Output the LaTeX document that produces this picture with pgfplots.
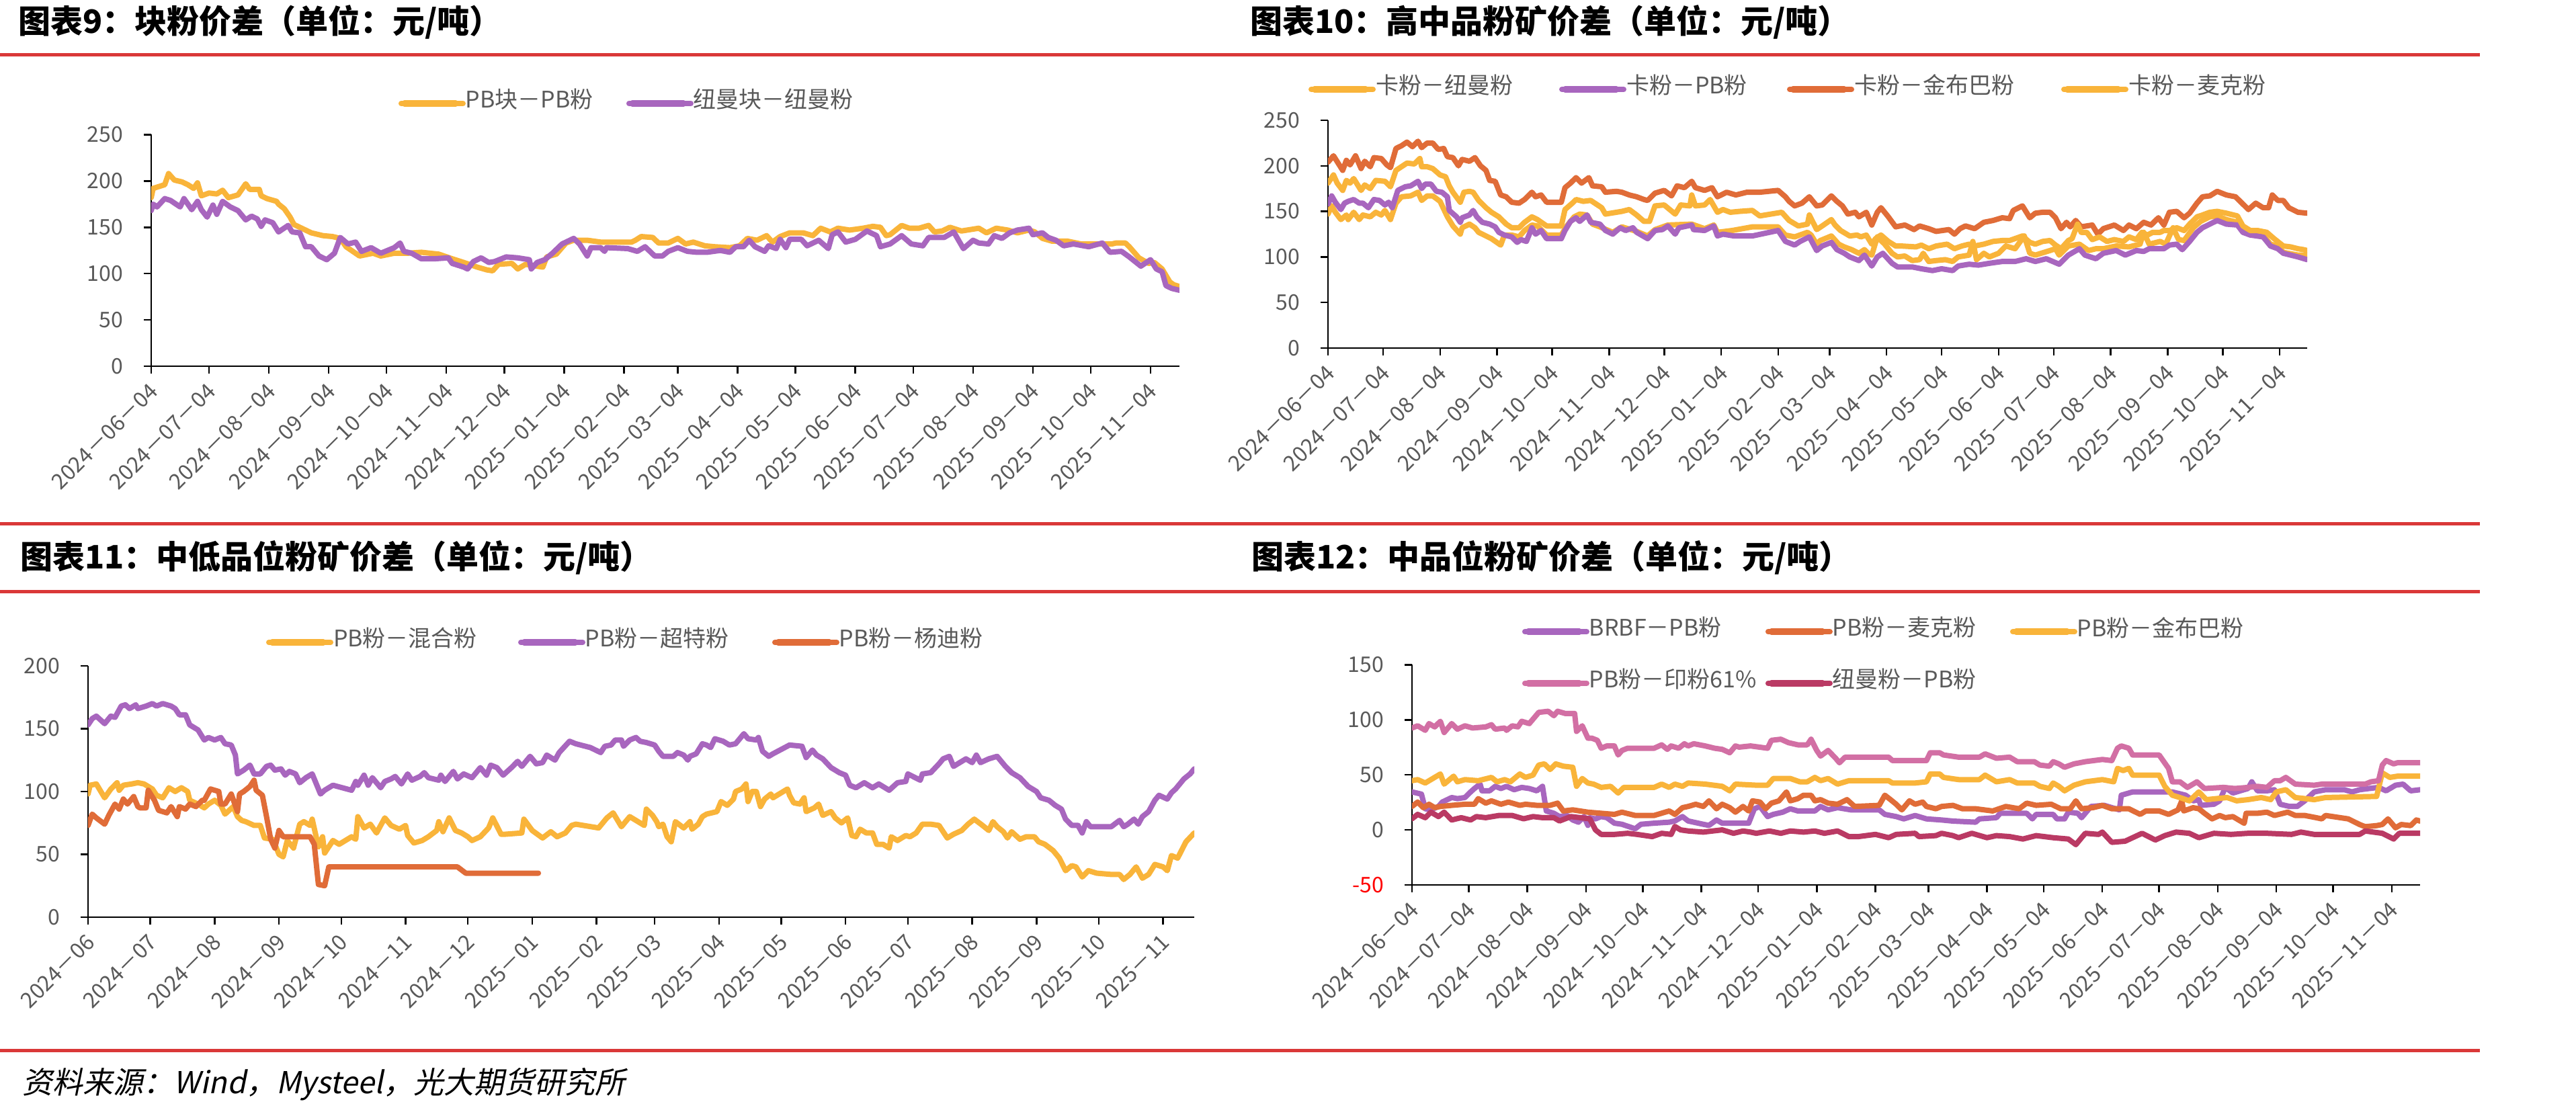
\documentclass[border=0pt]{standalone}
\usepackage{fontspec}
\setmainfont{Noto Sans CJK SC}
\newfontfamily\cjkit{Noto Sans CJK SC}[FakeSlant=0.2]
\usepackage{pgfplots}
\pgfplotsset{compat=1.18}

\definecolor{cYel}{RGB}{249,180,58}
\definecolor{cPur}{RGB}{168,102,190}
\definecolor{cOra}{RGB}{224,108,56}
\definecolor{cPnk}{RGB}{210,111,164}
\definecolor{cCrm}{RGB}{186,58,100}
\definecolor{cRule}{RGB}{218,56,56}
\definecolor{cTxt}{RGB}{89,89,89}

\newcommand\tickfont{\fontsize{3.2pt}{3.2pt}\selectfont}
\newcommand\legfont{\fontsize{3.4pt}{3.4pt}\selectfont}
\newcommand\titlefont{\fontsize{4.8pt}{4.8pt}\selectfont\bfseries}
\newcommand\footfont{\fontsize{4.5pt}{4.5pt}\selectfont\cjkit}
\newcommand\lgs{\rule[-0.41pt]{0pt}{3.0pt}}
\newcommand\lgbox[2]{\makebox[#1][l]{\lgs #2}}

\pgfplotsset{
  panel/.style={
    scale only axis, anchor=south west,
    xmin=0, xmax=533, enlargelimits=false, clip=true,
    axis x line=bottom, axis y line=left,
    axis line style={-, line width=0.27pt, black},
    tick style={line width=0.25pt, black},
    major tick length=1.1pt, tick align=outside,
    xtick={0,30,61,92,122,153,183,214,245,273,304,334,365,395,426,457,487,518},
    xticklabel style={rotate=45, anchor=east, inner sep=0pt, font=\tickfont, text=cTxt, xshift=0.7pt},
    yticklabel style={anchor=east, inner sep=0pt, font=\tickfont, text=cTxt},
    xticklabel shift=2.4pt, yticklabel shift=2.9pt,
    legend cell align=left,
    legend style={draw=none, fill=none, inner sep=0pt, outer sep=0pt, font=\legfont,
      text=cTxt, nodes={inner sep=0pt}, /tikz/column sep=0pt},
    legend image code/.code={\draw[##1, line width=1pt, line cap=round] (0.5pt,0pt) -- (8.1pt,0pt);
      \path (0pt,0pt) -- (9.2pt,0pt);},
    every axis plot/.append style={line width=0.8pt, line join=round, line cap=round, mark=none},
  },
  daylabels/.style={xticklabels={2024－06－04,2024－07－04,2024－08－04,2024－09－04,2024－10－04,2024－11－04,2024－12－04,2025－01－04,2025－02－04,2025－03－04,2025－04－04,2025－05－04,2025－06－04,2025－07－04,2025－08－04,2025－09－04,2025－10－04,2025－11－04}},
  monthlabels/.style={xticklabels={2024－06,2024－07,2024－08,2024－09,2024－10,2024－11,2024－12,2025－01,2025－02,2025－03,2025－04,2025－05,2025－06,2025－07,2025－08,2025－09,2025－10,2025－11}},
}

\begin{document}
\begin{tikzpicture}
\path[use as bounding box] (0,0) rectangle (383.3pt,-164.9pt);
\fill[white] (0,0) rectangle (383.3pt,-164.9pt);

% section rules
\draw[cRule, line width=0.5pt] (0pt,-8.2pt) -- (369.0pt,-8.2pt);
\draw[cRule, line width=0.5pt] (0pt,-78.0pt) -- (369.0pt,-78.0pt);
\draw[cRule, line width=0.5pt] (0pt,-88.1pt) -- (369.0pt,-88.1pt);
\draw[cRule, line width=0.5pt] (0pt,-156.4pt) -- (369.0pt,-156.4pt);

% chart titles
\node[anchor=base west, inner sep=0pt, font=\titlefont] at (2.5pt,-4.95pt) {图表9：块粉价差（单位：元/吨）};
\node[anchor=base west, inner sep=0pt, font=\titlefont] at (185.8pt,-4.95pt) {图表10：高中品粉矿价差（单位：元/吨）};
\node[anchor=base west, inner sep=0pt, font=\titlefont] at (2.8pt,-84.7pt) {图表11：中低品位粉矿价差（单位：元/吨）};
\node[anchor=base west, inner sep=0pt, font=\titlefont] at (186.0pt,-84.7pt) {图表12：中品位粉矿价差（单位：元/吨）};

% source line
\node[anchor=base west, inner sep=0pt, font=\footfont] at (3.2pt,-162.8pt) {资料来源：Wind，Mysteel，光大期货研究所};

% ---------- lump-fines spread ----------
\begin{axis}[panel, daylabels, at={(22.5pt,-54.5pt)}, width=153.0pt, height=34.45pt,
  ymin=0, ymax=250, ytick={0,50,100,150,200,250}, yticklabels={0,50,100,150,200,250},
  legend columns=-1, legend style={at={(axis description cs:0.2405,1.135)}, anchor=west}]
\addplot[cYel] coordinates {(0,182)(1,192)(7,196)(9,208)(12,201)(16,199)(19,196)(22,192)(24,198)(26,184)(30,187)(34,186)(37,190)(40,182)(45,185)(49,197)(51,191)(56,191)(57,184)(60,181)(65,178)(66,175)(69,170)(72,161)(74,153)(78,149)(83,144)(89,141)(94,140)(98,138)(101,129)(108,119)(115,122)(119,119)(126,122)(133,122)(140,123)(149,121)(156,116)(162,112)(169,107)(174,104)(177,103)(180,110)(187,111)(190,105)(194,110)(203,107)(205,118)(210,121)(215,133)(219,136)(226,136)(233,134)(242,134)(249,134)(251,136)(254,140)(260,139)(263,133)(268,133)(273,138)(277,132)(281,134)(287,130)(292,129)(300,128)(305,130)(309,138)(314,136)(319,141)(322,134)(326,140)(331,144)(338,144)(343,141)(347,149)(352,145)(356,149)(362,147)(369,149)(374,151)(378,150)(381,141)(383,142)(389,152)(393,149)(398,149)(403,152)(406,145)(410,146)(414,150)(420,146)(429,149)(433,144)(438,149)(444,147)(449,144)(455,147)(458,145)(462,138)(467,135)(475,135)(482,132)(493,132)(498,132)(500,133)(505,133)(507,129)(512,117)(517,111)(520,112)(524,105)(528,91)(530,88)(533,86)};
\addlegendentry{\lgbox{23.9pt}{PB块－PB粉}}
\addplot[cPur] coordinates {(0,168)(1,175)(3,172)(7,181)(10,179)(15,172)(17,181)(21,169)(24,178)(26,169)(29,161)(32,174)(34,164)(37,178)(41,172)(45,168)(49,158)(52,162)(55,159)(57,151)(59,158)(63,155)(66,145)(71,152)(73,145)(77,144)(80,129)(83,129)(87,119)(91,115)(95,122)(98,139)(102,132)(106,134)(109,124)(114,128)(119,122)(126,128)(129,133)(131,124)(135,122)(140,116)(147,116)(154,117)(156,111)(162,107)(164,105)(167,113)(171,117)(175,112)(178,113)(184,118)(190,117)(196,115)(197,105)(200,112)(204,115)(208,122)(213,132)(219,138)(222,132)(226,119)(228,128)(233,128)(235,124)(236,128)(247,127)(252,124)(256,129)(261,119)(265,119)(268,124)(273,128)(278,124)(283,123)(288,123)(295,125)(300,123)(303,129)(307,129)(310,136)(313,129)(318,124)(320,130)(324,127)(326,137)(329,128)(331,137)(337,137)(340,130)(346,136)(351,127)(353,142)(356,145)(360,134)(365,137)(371,146)(376,141)(378,129)(383,132)(389,141)(394,132)(400,130)(403,139)(411,139)(416,145)(421,127)(426,136)(429,133)(434,132)(437,141)(441,138)(445,144)(449,147)(455,149)(457,142)(462,144)(465,139)(469,136)(473,130)(478,132)(486,129)(493,133)(497,123)(503,124)(507,118)(513,108)(518,115)(521,105)(524,102)(526,87)(529,84)(533,82)};
\addlegendentry{\lgs 纽曼块－纽曼粉}
\end{axis}

% ---------- high/mid grade fines spread ----------
\begin{axis}[panel, daylabels, at={(197.6pt,-51.8pt)}, width=145.7pt, height=33.9pt,
  ymin=0, ymax=250, ytick={0,50,100,150,200,250}, yticklabels={0,50,100,150,200,250},
  legend columns=-1, legend style={at={(axis description cs:-0.0199,1.1357)}, anchor=west}]
\addplot[cYel] coordinates {(0,147)(2,156)(4,149)(7,141)(10,146)(11,141)(14,149)(17,141)(19,146)(23,144)(26,149)(29,146)(31,151)(34,141)(37,159)(40,166)(45,167)(49,171)(51,162)(54,167)(57,167)(61,161)(65,144)(68,134)(72,125)(73,132)(77,136)(80,132)(82,127)(86,123)(89,120)(94,113)(96,124)(100,124)(104,122)(107,129)(111,135)(114,134)(119,124)(127,124)(130,134)(134,144)(137,147)(141,146)(144,136)(148,133)(155,127)(160,133)(168,128)(174,123)(178,130)(185,135)(198,136)(205,131)(210,135)(212,127)(220,129)(231,133)(245,133)(249,124)(254,122)(261,127)(263,124)(266,114)(268,118)(274,123)(278,114)(281,111)(285,108)(289,104)(292,108)(294,104)(296,102)(299,122)(303,114)(307,104)(310,100)(314,101)(318,96)(322,97)(324,104)(327,95)(331,96)(336,97)(340,95)(343,100)(349,102)(351,117)(353,97)(357,104)(360,100)(365,104)(369,112)(374,109)(379,123)(382,104)(385,102)(393,107)(396,109)(398,102)(403,112)(409,114)(414,107)(418,109)(422,109)(429,112)(436,111)(442,114)(444,127)(447,114)(453,117)(456,114)(460,132)(463,119)(466,118)(471,132)(475,139)(480,144)(484,145)(489,141)(495,138)(500,127)(509,124)(513,114)(517,112)(520,105)(528,102)(533,102)};
\addlegendentry{\lgbox{27.3pt}{卡粉－纽曼粉}}
\addplot[cPur] coordinates {(0,158)(2,167)(4,160)(7,152)(9,159)(11,161)(14,163)(17,159)(19,159)(22,154)(25,163)(28,162)(31,157)(33,160)(35,154)(38,173)(42,177)(45,178)(49,183)(51,175)(53,180)(56,180)(59,172)(62,171)(65,166)(66,151)(70,144)(72,138)(73,143)(77,146)(79,151)(81,144)(84,138)(88,136)(91,133)(93,127)(96,124)(100,122)(103,116)(105,119)(108,117)(111,132)(113,125)(116,129)(119,120)(127,120)(129,129)(132,139)(135,143)(137,139)(141,146)(143,138)(148,136)(151,129)(155,125)(159,132)(162,129)(166,132)(168,127)(174,120)(178,129)(182,130)(185,134)(189,125)(191,132)(198,135)(199,130)(205,129)(210,134)(212,123)(215,125)(221,123)(231,123)(245,129)(249,117)(254,113)(257,117)(262,122)(266,107)(269,112)(274,116)(277,108)(281,104)(284,100)(289,96)(292,102)(296,90)(299,100)(302,104)(307,93)(310,89)(318,89)(323,87)(329,85)(334,87)(340,85)(343,90)(349,92)(354,91)(360,93)(367,95)(374,95)(380,98)(385,95)(391,98)(398,92)(403,102)(409,109)(412,102)(418,98)(422,104)(429,107)(434,102)(440,107)(444,106)(447,109)(455,109)(458,113)(462,114)(465,108)(469,117)(473,127)(476,132)(484,140)(489,136)(495,135)(498,127)(502,124)(509,122)(513,112)(517,109)(520,104)(524,102)(528,100)(533,97)};
\addlegendentry{\lgbox{23.9pt}{卡粉－PB粉}}
\addplot[cOra] coordinates {(0,204)(3,211)(8,195)(10,206)(12,201)(15,211)(18,197)(20,205)(23,199)(25,209)(29,208)(32,201)(34,198)(37,219)(40,222)(43,226)(46,221)(49,227)(51,220)(54,225)(57,225)(60,218)(63,219)(65,210)(68,209)(71,200)(73,207)(77,205)(80,209)(83,200)(86,195)(88,184)(91,183)(94,168)(97,166)(100,160)(104,159)(107,163)(111,171)(113,166)(116,168)(119,160)(127,160)(129,176)(132,181)(135,187)(138,181)(142,187)(144,178)(149,177)(151,171)(157,172)(160,171)(164,168)(168,166)(172,163)(174,162)(178,170)(183,173)(187,167)(190,178)(194,176)(198,183)(200,176)(205,173)(209,176)(212,166)(217,171)(222,168)(228,171)(235,171)(245,173)(249,166)(251,161)(254,156)(258,159)(262,166)(266,156)(269,157)(274,167)(277,161)(280,156)(283,147)(287,149)(289,144)(293,149)(296,135)(299,149)(301,154)(305,144)(309,133)(314,135)(319,130)(322,134)(327,131)(331,128)(338,130)(341,125)(344,131)(347,134)(352,131)(357,138)(362,140)(367,143)(371,142)(373,151)(378,156)(382,143)(385,148)(389,149)(393,149)(396,143)(399,131)(402,138)(404,133)(407,140)(410,133)(416,135)(419,125)(422,131)(428,135)(433,129)(436,135)(440,131)(444,138)(448,135)(452,143)(455,135)(458,149)(462,150)(466,143)(469,148)(473,159)(476,166)(480,167)(484,172)(489,168)(494,166)(497,160)(501,152)(505,159)(509,154)(512,154)(514,168)(517,162)(520,162)(523,154)(528,149)(533,148)};
\addlegendentry{\lgbox{30.8pt}{卡粉－金布巴粉}}
\addplot[cYel] coordinates {(0,181)(3,190)(5,181)(8,173)(10,184)(12,181)(14,186)(18,173)(20,179)(23,175)(26,184)(31,183)(34,177)(37,195)(40,199)(43,203)(47,202)(50,208)(51,199)(54,199)(57,197)(61,190)(64,188)(66,178)(68,171)(72,160)(74,171)(77,172)(79,171)(82,162)(86,154)(89,149)(93,144)(97,136)(100,132)(104,132)(107,138)(111,144)(114,141)(119,134)(127,134)(129,152)(133,159)(135,163)(139,161)(143,162)(149,154)(151,147)(157,149)(160,150)(164,152)(168,146)(172,139)(175,139)(178,156)(183,157)(189,147)(192,157)(197,156)(198,168)(200,156)(205,157)(208,163)(212,149)(215,152)(219,149)(224,150)(231,151)(235,145)(247,149)(251,140)(256,134)(261,136)(262,146)(266,130)(269,134)(274,141)(276,135)(279,129)(284,123)(288,124)(290,122)(293,124)(296,114)(298,120)(301,124)(305,117)(309,112)(312,112)(320,111)(323,113)(327,109)(331,112)(337,114)(341,109)(345,112)(349,114)(352,112)(357,114)(362,117)(367,118)(371,118)(378,123)(382,116)(385,114)(389,117)(393,118)(396,113)(399,109)(403,118)(405,120)(408,136)(410,127)(413,127)(416,119)(420,122)(424,117)(428,119)(433,117)(436,122)(440,119)(443,127)(446,124)(449,127)(453,127)(455,129)(458,129)(462,132)(466,129)(469,136)(473,144)(476,146)(480,149)(484,150)(489,148)(495,145)(498,134)(502,129)(506,129)(511,127)(515,120)(520,112)(524,111)(528,109)(531,108)(533,107)};
\addlegendentry{\lgs 卡粉－麦克粉}
\end{axis}

% ---------- mid/low grade fines spread ----------
\begin{axis}[panel, monthlabels, at={(13.1pt,-136.5pt)}, width=164.6pt, height=37.4pt,
  ymin=0, ymax=200, ytick={0,50,100,150,200}, yticklabels={0,50,100,150,200},
  legend columns=-1, legend style={at={(axis description cs:0.1610,1.0936)}, anchor=west}]
\addplot[cYel] coordinates {(0,98)(1,105)(4,106)(8,95)(11,102)(14,107)(15,101)(17,105)(21,106)(24,107)(27,106)(31,102)(33,97)(36,95)(39,103)(42,100)(45,103)(48,100)(49,93)(53,90)(56,87)(58,90)(61,93)(64,89)(66,82)(70,88)(72,80)(74,77)(76,76)(80,73)(83,73)(85,63)(89,62)(92,50)(94,48)(96,61)(99,55)(102,74)(104,76)(107,73)(108,78)(111,56)(113,64)(114,51)(118,61)(121,58)(127,64)(129,62)(130,80)(133,71)(136,74)(139,67)(143,79)(146,73)(150,70)(153,73)(154,65)(157,59)(161,61)(164,64)(168,69)(169,76)(171,68)(174,79)(177,69)(180,67)(183,64)(185,61)(189,64)(193,71)(195,79)(199,66)(201,66)(209,67)(210,78)(214,69)(219,63)(223,68)(226,64)(230,67)(233,73)(235,74)(246,71)(250,79)(253,83)(257,72)(261,80)(265,76)(268,73)(269,86)(272,81)(274,76)(275,72)(277,74)(279,64)(281,60)(283,76)(287,71)(290,76)(291,70)(294,74)(296,80)(298,82)(303,84)(305,92)(308,89)(311,94)(312,100)(315,102)(317,106)(318,92)(320,100)(322,100)(324,88)(326,94)(329,98)(330,95)(337,102)(338,97)(340,91)(343,90)(345,95)(346,84)(350,87)(352,90)(354,81)(358,84)(360,79)(363,75)(366,79)(368,65)(370,64)(372,70)(375,67)(378,67)(380,58)(383,58)(386,55)(387,64)(390,61)(394,65)(396,64)(399,67)(402,74)(406,74)(410,73)(414,63)(417,66)(421,69)(424,74)(427,78)(431,73)(434,69)(436,76)(438,72)(441,68)(443,63)(445,68)(449,62)(452,64)(456,64)(458,60)(461,58)(465,53)(468,47)(471,37)(474,41)(476,40)(479,32)(482,37)(486,35)(493,34)(497,34)(499,30)(502,34)(505,40)(508,31)(511,34)(514,42)(518,40)(520,37)(522,49)(525,47)(529,60)(533,67)};
\addlegendentry{\lgbox{27.5pt}{PB粉－混合粉}}
\addplot[cPur] coordinates {(0,153)(2,158)(4,160)(8,154)(11,160)(13,159)(16,168)(18,169)(20,166)(23,169)(24,166)(28,168)(31,170)(33,168)(36,170)(40,168)(42,166)(44,161)(47,161)(49,153)(53,149)(56,141)(58,143)(61,141)(64,143)(66,138)(69,137)(71,129)(72,114)(75,117)(78,121)(80,114)(83,114)(86,120)(88,121)(90,117)(93,118)(95,113)(97,116)(100,114)(102,107)(105,111)(108,114)(112,98)(114,101)(118,105)(127,101)(129,108)(130,105)(133,113)(135,105)(137,111)(141,103)(143,108)(146,110)(148,112)(151,106)(154,114)(156,109)(160,112)(162,115)(164,111)(169,109)(170,113)(172,108)(176,116)(178,110)(181,114)(185,111)(189,119)(192,113)(194,121)(197,119)(200,113)(204,119)(207,124)(209,120)(213,128)(216,122)(219,123)(221,129)(225,125)(227,131)(232,140)(235,138)(242,135)(247,131)(249,136)(252,137)(254,141)(257,141)(258,136)(261,141)(264,143)(266,140)(269,139)(273,137)(275,132)(277,128)(282,128)(284,131)(287,129)(289,125)(290,128)(293,130)(296,138)(298,137)(300,135)(302,142)(306,140)(309,137)(312,138)(316,146)(318,142)(322,141)(323,143)(325,132)(328,128)(330,130)(338,137)(344,136)(346,127)(349,133)(351,129)(354,126)(358,119)(362,115)(365,113)(367,105)(370,103)(374,107)(378,103)(381,106)(386,101)(390,107)(394,108)(395,114)(401,109)(402,114)(406,115)(410,122)(412,126)(415,128)(417,120)(420,123)(423,126)(426,123)(428,129)(430,123)(434,126)(438,128)(442,120)(445,115)(449,111)(453,104)(457,100)(459,95)(463,93)(466,89)(469,86)(471,78)(474,73)(477,73)(479,67)(481,76)(483,72)(493,72)(497,77)(499,72)(501,74)(504,78)(506,74)(508,80)(511,84)(514,93)(516,97)(520,94)(522,99)(524,102)(528,110)(531,114)(533,118)};
\addlegendentry{\lgbox{27.8pt}{PB粉－超特粉}}
\addplot[cOra] coordinates {(0,73)(2,82)(4,79)(8,74)(10,81)(13,90)(15,86)(17,94)(19,90)(22,96)(24,88)(25,87)(28,87)(29,101)(32,93)(34,85)(38,83)(40,88)(43,80)(44,88)(47,86)(49,90)(52,88)(55,93)(56,93)(59,102)(63,100)(64,90)(66,90)(69,98)(72,84)(73,98)(75,100)(78,104)(80,109)(81,101)(84,97)(86,80)(88,62)(90,55)(92,69)(94,64)(96,64)(107,64)(109,58)(111,26)(114,25)(116,40)(178,40)(182,35)(217,35)};
\addlegendentry{\lgs PB粉－杨迪粉}
\end{axis}

% ---------- mid grade fines spread ----------
\begin{axis}[panel, daylabels, at={(210.1pt,-131.7pt)}, width=150.0pt, height=32.75pt,
  ymin=-50, ymax=150, ytick={-50,0,50,100,150}, yticklabels={\textcolor{red}{-50},0,50,100,150},
  legend columns=3, legend style={at={(axis description cs:0.1093,1.0336)}, anchor=west, /tikz/row sep=3.3pt}]
\addplot[cPur] coordinates {(0,34.5)(5,32.5)(7,19.2)(10,18.2)(14,21.3)(16,25.3)(21,29.4)(24,28.4)(28,29.4)(31,34.5)(33,37.6)(36,41.6)(37,35.5)(41,35.5)(44,39.6)(47,37.6)(50,39.6)(54,36.5)(58,38.6)(62,37.6)(66,35.5)(69,39.6)(71,17.2)(75,15.1)(78,12.1)(82,13.1)(85,9.0)(88,7.0)(91,12.1)(93,4.1)(94,11.1)(97,10.0)(100,12.1)(103,11.1)(107,6.1)(111,5.1)(118,1.0)(121,5.1)(128,6.1)(136,7.0)(139,8.1)(143,12.1)(146,8.1)(154,5.1)(157,4.1)(161,9.0)(164,6.1)(175,6.1)(178,6.1)(181,19.2)(184,21.3)(188,12.1)(191,14.1)(196,16.1)(200,19.2)(204,17.2)(213,17.2)(216,21.3)(220,18.2)(225,20.2)(232,18.2)(247,18.2)(250,14.1)(256,12.1)(260,10.0)(266,13.1)(272,10.0)(280,9.0)(286,8.0)(298,7.0)(300,10.0)(309,11.1)(311,15.1)(325,15.1)(328,10.0)(330,14.1)(339,14.1)(341,10.0)(345,10.0)(347,16.1)(352,15.1)(354,11.1)(359,21.3)(366,22.3)(372,19.2)(374,18.2)(375,31.5)(381,34.5)(402,34.5)(409,31.5)(413,26.4)(416,27.5)(417,22.3)(424,23.3)(427,26.4)(430,38.6)(434,33.5)(442,37.6)(444,43.7)(447,35.5)(452,35.5)(456,36.5)(459,23.3)(464,21.3)(468,21.3)(472,26.4)(477,34.5)(483,36.5)(493,36.5)(497,34.5)(501,36.5)(506,37.6)(511,38.6)(515,35.5)(520,40.6)(524,41.6)(528,35.5)(533,36.5)};
\addlegendentry{\lgbox{26.2pt}{BRBF－PB粉}}
\addplot[cOra] coordinates {(0,21.3)(3,25.3)(6,20.2)(9,23.3)(12,20.2)(15,21.3)(21,22.3)(28,23.3)(33,23.3)(35,28.4)(39,24.3)(42,26.4)(47,23.3)(51,25.3)(57,22.3)(60,23.3)(66,22.3)(73,22.3)(77,24.3)(80,17.2)(85,18.2)(93,16.1)(100,15.1)(107,14.1)(111,16.1)(118,13.1)(128,13.1)(136,17.2)(139,14.1)(143,20.2)(146,21.3)(150,23.3)(154,21.3)(157,26.4)(161,19.2)(164,23.3)(168,20.2)(171,16.1)(175,21.3)(178,17.2)(180,26.4)(184,25.3)(187,19.2)(190,24.3)(194,26.4)(198,34.5)(200,26.4)(204,28.4)(207,31.5)(211,31.5)(213,26.4)(216,27.5)(220,24.3)(225,23.3)(230,27.5)(234,21.3)(247,22.3)(250,31.5)(253,27.5)(256,23.3)(259,18.2)(263,26.4)(266,23.3)(270,25.3)(272,21.3)(277,19.2)(280,21.3)(286,22.3)(291,19.2)(298,19.2)(307,17.2)(314,21.3)(321,19.2)(325,24.3)(330,22.3)(338,23.3)(343,19.2)(348,19.2)(351,26.4)(354,19.2)(360,20.2)(365,22.3)(370,19.2)(379,19.2)(385,14.1)(388,17.2)(395,17.2)(400,14.1)(405,18.2)(407,26.4)(408,17.2)(413,20.2)(416,19.2)(419,15.1)(423,10.0)(427,13.1)(430,11.1)(434,12.1)(440,6.0)(441,15.1)(447,15.1)(452,16.1)(456,13.1)(463,16.1)(467,13.1)(472,13.1)(478,11.1)(481,10.0)(483,13.1)(495,10.0)(501,4.9)(504,2.9)(510,3.9)(513,4.9)(516,10.0)(520,1.9)(523,4.9)(528,3.9)(531,9.0)(533,8.0)};
\addlegendentry{\lgbox{26.4pt}{PB粉－麦克粉}}
\addplot[cYel] coordinates {(0,44.7)(3,45.7)(7,42.6)(11,46.7)(15,50.8)(17,41.6)(22,48.8)(24,43.7)(28,45.7)(35,44.7)(42,47.7)(45,43.7)(49,45.7)(52,43.7)(57,50.8)(60,47.7)(64,49.8)(67,58.9)(70,60.0)(73,54.9)(76,60.0)(80,57.9)(85,56.9)(87,39.6)(90,46.7)(93,42.6)(96,41.6)(100,38.6)(105,39.6)(109,33.5)(112,38.6)(128,38.6)(132,41.6)(136,38.6)(139,41.6)(143,39.6)(146,42.6)(155,41.6)(164,39.6)(168,35.5)(171,41.6)(182,40.6)(188,40.6)(191,46.7)(200,46.7)(205,43.7)(209,43.7)(213,47.7)(216,44.7)(220,46.7)(225,41.6)(231,44.7)(252,44.7)(254,42.6)(266,42.6)(272,43.7)(274,50.8)(279,50.8)(281,47.7)(289,45.7)(300,45.7)(303,49.8)(309,43.7)(316,45.7)(320,42.6)(329,42.6)(332,39.6)(337,37.6)(339,42.6)(342,39.6)(345,35.5)(350,40.6)(356,43.7)(365,45.7)(371,43.7)(373,55.9)(376,53.9)(379,55.9)(381,49.8)(395,49.8)(398,39.6)(402,31.5)(406,29.4)(411,26.4)(416,34.5)(420,27.5)(431,29.4)(436,26.4)(442,27.5)(449,29.4)(454,27.5)(457,34.5)(462,36.5)(467,29.4)(477,27.5)(483,29.4)(510,30.4)(513,51.8)(517,47.7)(521,48.8)(533,48.8)};
\addlegendentry{\lgs PB粉－金布巴粉}
\addplot[cPnk] coordinates {(0,92.6)(3,94.6)(7,90.5)(9,96.6)(12,93.6)(15,98.7)(17,88.5)(21,96.6)(24,91.5)(28,94.6)(32,92.6)(39,93.6)(42,95.6)(44,91.5)(49,92.6)(50,90.5)(53,94.6)(56,93.6)(58,98.7)(62,96.6)(65,102.7)(67,106.8)(72,107.8)(75,103.8)(77,107.8)(81,105.8)(86,105.8)(87,89.5)(90,94.6)(93,83.4)(95,83.4)(98,81.4)(100,74.2)(103,76.3)(107,76.3)(109,68.1)(111,72.2)(114,74.2)(128,74.2)(132,77.3)(135,73.2)(137,76.3)(141,74.2)(144,78.3)(146,76.3)(149,78.3)(155,76.3)(160,74.2)(164,73.2)(168,70.1)(171,76.3)(173,75.2)(179,76.3)(188,74.2)(190,81.4)(195,82.4)(199,79.3)(204,77.3)(209,77.3)(211,82.4)(214,72.2)(216,67.1)(220,72.2)(224,65.1)(226,61.0)(229,66.1)(232,66.1)(252,66.1)(254,63.0)(266,63.0)(272,63.0)(274,70.1)(279,70.1)(281,68.1)(289,66.1)(300,66.1)(303,69.1)(309,65.1)(316,66.1)(320,62.0)(329,62.0)(332,58.9)(337,57.9)(339,62.0)(342,60.0)(345,56.9)(350,60.0)(356,62.0)(365,64.0)(370,63.0)(373,74.2)(375,76.3)(379,74.2)(381,68.1)(395,68.1)(400,55.9)(402,43.7)(406,43.7)(410,38.6)(415,43.7)(419,37.6)(429,38.6)(435,37.6)(442,38.6)(447,39.6)(452,38.6)(456,44.7)(459,44.7)(462,47.7)(467,41.6)(477,40.6)(481,41.6)(504,41.6)(507,43.7)(511,44.7)(513,58.9)(515,63.0)(519,60.0)(521,61.0)(533,61.0)};
\addlegendentry{\lgbox{26.2pt}{PB粉－印粉61\%}}
\addplot[cCrm] coordinates {(0,10.1)(3,14.1)(7,11.1)(10,16.1)(14,12.1)(17,16.1)(21,9.0)(26,11.1)(31,9.0)(34,12.1)(39,11.1)(46,13.1)(53,13.1)(59,10.1)(64,12.1)(69,11.1)(75,11.1)(78,8.1)(84,12.1)(89,11.1)(94,10.1)(97,0)(100,-4.1)(107,-4.1)(114,-3.1)(119,-4.1)(127,-6.1)(132,-3.1)(137,-4.1)(139,3.1)(142,0)(146,-1.0)(154,-2.0)(159,-1.0)(164,0)(170,-3.1)(175,-1.0)(179,-2.0)(182,-3.1)(189,-1.0)(195,-3.1)(200,-1.0)(207,-2.0)(213,-1.0)(218,-3.1)(225,-1.0)(231,-6.1)(236,-6.1)(245,-4.1)(252,-7.1)(256,-4.1)(266,-3.1)(268,-6.1)(277,-5.2)(280,-3.1)(286,-5.2)(289,-7.1)(296,-3.1)(304,-7.1)(309,-5.2)(316,-6.1)(323,-8.3)(330,-5.2)(339,-7.1)(347,-8.3)(351,-13.4)(354,-7.1)(356,-3.1)(363,-4.1)(365,-2.0)(370,-11.3)(377,-10.3)(381,-7.1)(386,-3.1)(393,-9.2)(398,-5.2)(404,-2.0)(411,-3.1)(416,-7.1)(424,-3.1)(433,-4.1)(442,-3.1)(452,-3.1)(465,-4.1)(470,-2.0)(477,-4.1)(492,-4.1)(501,-4.1)(504,-1.0)(513,-3.1)(519,-8.3)(522,-3.1)(533,-3.1)};
\addlegendentry{\lgs 纽曼粉－PB粉}
\end{axis}
\end{tikzpicture}
\end{document}
